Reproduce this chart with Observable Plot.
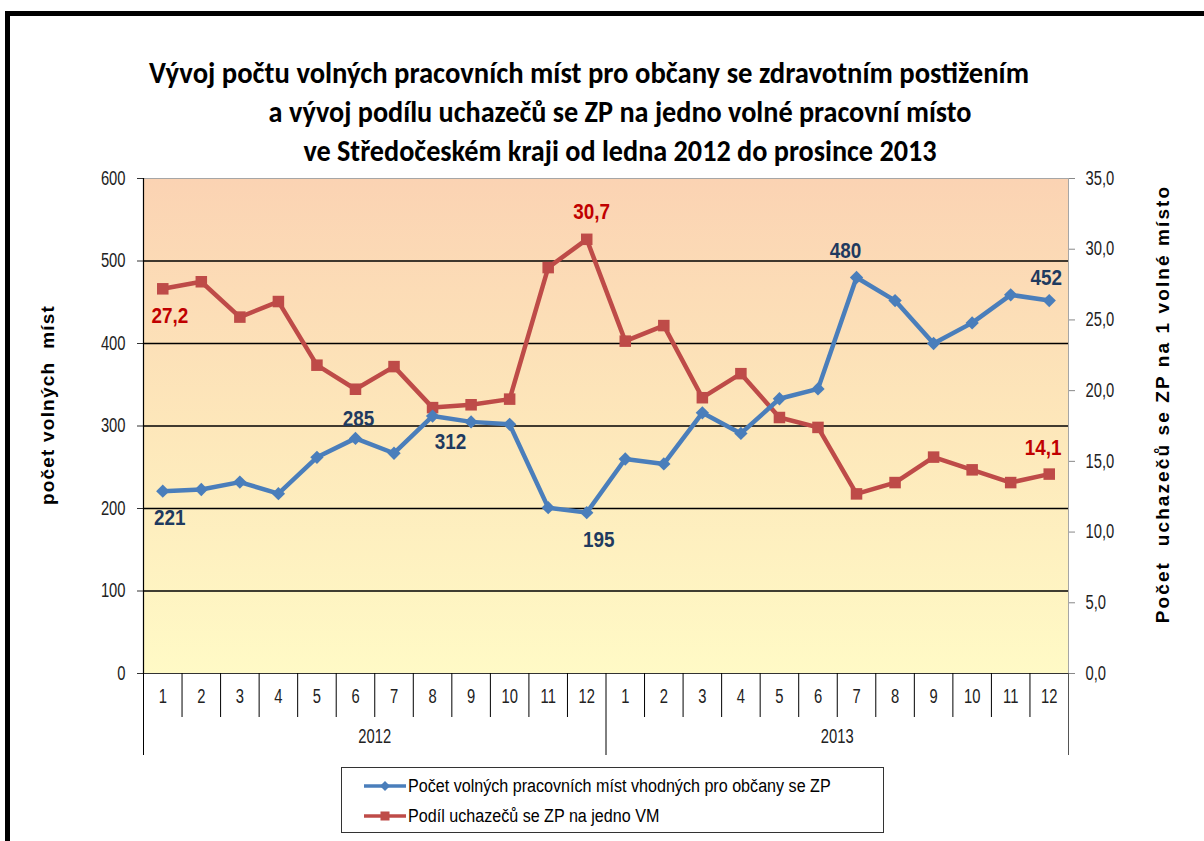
<!DOCTYPE html>
<html>
<head>
<meta charset="utf-8">
<script src="https://cdn.jsdelivr.net/npm/d3@7"></script>
<script src="https://cdn.jsdelivr.net/npm/@observablehq/plot@0.6"></script>
<style>
  body { margin: 0; background: #fff; }
  #wrap { position: relative; width: 1204px; height: 841px; overflow: hidden; background: #fff;
          font-family: "Liberation Sans", Arial, sans-serif; }
  #frame { position: absolute; left: 5px; top: 11px; right: -10px; bottom: -10px;
           border-top: 5px solid #000; border-left: 5px solid #000; pointer-events: none; }
  #chart { position: absolute; left: 0; top: 0; }
  .title { position: absolute; transform: translate(-50%, -50%) scaleX(0.94); white-space: nowrap;
           font-family: Carlito, "Liberation Sans", sans-serif;
           font-weight: bold; font-size: 30px; color: #000; }
  .ytitle { position: absolute; transform: translate(-50%, -50%) rotate(-90deg); white-space: pre;
            font-family: "Liberation Sans", Arial, sans-serif; font-weight: bold; font-size: 19px;
            color: #000; letter-spacing: 1.2px; }
  #legend { position: absolute; left: 341px; top: 767px; width: 541px; height: 64px;
            border: 1px solid #333; background: #fff; box-sizing: content-box; }
  .lg { position: absolute; left: 22px; height: 22px; display: flex; align-items: center;
        font-family: "Liberation Sans", Arial, sans-serif; font-size: 18px; color: #000; white-space: nowrap; }
  .lg span { display: inline-block; transform: scaleX(0.895); transform-origin: left center; }
  .lg svg { margin-right: 2px; }
</style>
</head>
<body>
<div id="wrap">
  <div id="chart"></div>
  <div class="title" style="left:589px; top:72px; transform: translate(-50%, -50%) scaleX(0.955);">Vývoj počtu volných pracovních míst pro občany se zdravotním postižením</div>
  <div class="title" style="left:620px; top:111px;">a vývoj podílu uchazečů se ZP na jedno volné pracovní místo</div>
  <div class="title" style="left:620px; top:150px;">ve Středočeském kraji od ledna 2012 do prosince 2013</div>
  <div class="ytitle" style="left:48px; top:405px;">počet volných  míst</div>
  <div class="ytitle" style="left:1163px; top:404px; letter-spacing:2.1px;">Počet  uchazečů se ZP na 1 volné místo</div>
  <div id="legend"></div>
  <div id="frame"></div>
</div>
<script>
// ---- data ----
const years = ["2012", "2013"];
const monthLabels = ["1","2","3","4","5","6","7","8","9","10","11","12"];
const vacancies = [221, 223, 232, 218, 262, 285, 267, 312, 305, 302, 201, 195,
                   260, 254, 316, 291, 333, 345, 480, 452, 400, 425, 459, 452];
const ratio = [27.2, 27.7, 25.2, 26.3, 21.8, 20.1, 21.7, 18.8, 19.0, 19.4, 28.7, 30.7,
               23.5, 24.6, 19.5, 21.2, 18.1, 17.4, 12.7, 13.5, 15.3, 14.4, 13.5, 14.1];
const leftTicks = [0, 100, 200, 300, 400, 500, 600];
const rightTicks = [0, 5, 10, 15, 20, 25, 30, 35];
const seriesNames = ["Počet volných pracovních míst vhodných pro občany se ZP",
                     "Podíl uchazečů se ZP na jedno VM"];

// ---- derived ----
const leftMax = 600, rightMax = 35, k = leftMax / rightMax;
const rows = vacancies.map((v, j) => ({
  i: j + 1, year: years[Math.floor(j / 12)], month: monthLabels[j % 12], v, r: ratio[j], rs: ratio[j] * k
}));
const yearInfo = years.map((y, j) => ({ year: y, center: j * 12 + 6.5 }));
const monthSeps = d3.range(1.5, 24.5, 1).filter(s => s !== 12.5);
const yearSeps = [0.5, 12.5];

const blue = "#4A7EBB", red = "#BE4B48", navy = "#1F3A5F", darkRed = "#C00000";
const fmt = x => x.toFixed(1).replace(".", ",");

const W = 1204, H = 841, mL = 143, mR = 136, mT = 178, mB = 168;
const plotH = H - mT - mB;

const lab = (d, opts) => Plot.text([d], {
  x: "i", fontWeight: "bold", fontSize: 21, fontFamily: "Liberation Sans, Arial, sans-serif", className: "dlab", ...opts
});

const chart = Plot.plot({
  width: W, height: H,
  marginLeft: mL, marginRight: mR, marginTop: mT, marginBottom: mB,
  x: { type: "linear", domain: [0.5, 24.5], axis: null },
  y: { domain: [0, leftMax], axis: null },
  style: { background: "transparent", fontFamily: "Liberation Sans, Arial, sans-serif", fontSize: "17px", color: "#222", overflow: "visible" },
  marks: [
    Plot.frame({ fill: "url(#bgGrad)", stroke: "#a6a6a6" }),
    Plot.ruleY(leftTicks.filter(t => t > 0 && t < leftMax), { stroke: "#000", strokeWidth: 1.3 }),
    Plot.axisY({ anchor: "left", ticks: leftTicks, tickSize: 6, tickPadding: 12, label: null,
                 fontSize: 18, stroke: "#333", fill: "#222", className: "nar" }),
    Plot.axisY({ anchor: "right", ticks: rightTicks.map(t => t * k), tickFormat: d => fmt(d / k),
                 tickSize: 6, tickPadding: 11, label: null, fontSize: 18, stroke: "#888", fill: "#222", className: "nar" }),
    // axis lines
    Plot.ruleY([0], { stroke: "#333", strokeWidth: 1.2 }),
    Plot.ruleX([0.5], { stroke: "#000", strokeWidth: 1.2 }),
    // category separators below the axis
    Plot.ruleX(monthSeps, { stroke: "#000", insetTop: plotH, insetBottom: -44 }),
    Plot.ruleX(yearSeps, { stroke: "#000", insetTop: plotH, insetBottom: -82 }),
    Plot.ruleX([24.5], { stroke: "#555", insetTop: plotH, insetBottom: -82 }),
    Plot.text(rows, { x: "i", text: "month", frameAnchor: "bottom", dy: 29, fontSize: 18, fill: "#222", className: "nar" }),
    Plot.text(yearInfo, { x: "center", text: "year", frameAnchor: "bottom", dy: 69, fontSize: 18, fill: "#222", className: "nar" }),
    // series
    Plot.line(rows, { x: "i", y: "rs", stroke: red, strokeWidth: 4.5 }),
    Plot.dot(rows, { x: "i", y: "rs", symbol: "square", r: 6.5, fill: red, stroke: "none" }),
    Plot.line(rows, { x: "i", y: "v", stroke: blue, strokeWidth: 4.5 }),
    Plot.dot(rows, { x: "i", y: "v", symbol: "diamond2", r: 6, fill: blue, stroke: "none" }),
    // data labels
    lab(rows[0],  { y: "v", text: d => String(d.v), dx: 7,  dy: 27, fill: navy }),
    lab(rows[5],  { y: "v", text: d => String(d.v), dx: 3,  dy: -19, fill: navy }),
    lab(rows[7],  { y: "v", text: d => String(d.v), dx: 18, dy: 26, fill: navy }),
    lab(rows[11], { y: "v", text: d => String(d.v), dx: 12, dy: 28, fill: navy }),
    lab(rows[18], { y: "v", text: d => String(d.v), dx: -11, dy: -26, fill: navy }),
    lab(rows[23], { y: "v", text: d => String(d.v), dx: -3, dy: -22, fill: navy }),
    lab(rows[0],  { y: "rs", text: d => fmt(d.r), dx: 7,  dy: 27, fill: darkRed }),
    lab(rows[11], { y: "rs", text: d => fmt(d.r), dx: 5,  dy: -27, fill: darkRed }),
    lab(rows[23], { y: "rs", text: d => fmt(d.r), dx: -6, dy: -26, fill: darkRed })
  ]
});

d3.select(chart).insert("defs", ":first-child").html(
  `<linearGradient id="bgGrad" x1="0" y1="0" x2="0" y2="1">
     <stop offset="0" stop-color="#FBD3B3"/>
     <stop offset="0.5" stop-color="#FDE7BA"/>
     <stop offset="1" stop-color="#FFFAC6"/>
   </linearGradient>`);

// condense text glyphs (narrow, tall look of the original)
function condense(sel, sx, sy) {
  d3.select(chart).selectAll(sel).each(function () {
    const t = this.getAttribute("transform");
    if (t) this.setAttribute("transform", t + ` scale(${sx},${sy})`);
  });
}
condense(".nar text", 0.82, 1.08);
condense(".dlab text", 0.9, 1.02);

document.getElementById("chart").appendChild(chart);

// legend
const legend = d3.select("#legend");
[[blue, "diamond"], [red, "square"]].forEach(([c, sym], j) => {
  const row = legend.append("div").attr("class", "lg").style("top", (j === 0 ? 7 : 37) + "px");
  const s = row.append("svg").attr("width", 42).attr("height", 14);
  s.append("line").attr("x1", 0).attr("x2", 42).attr("y1", 7).attr("y2", 7).attr("stroke", c).attr("stroke-width", 3.5);
  if (sym === "diamond") s.append("path").attr("d", "M21,2L26,7L21,12L16,7Z").attr("fill", c);
  else s.append("rect").attr("x", 16.5).attr("y", 2.5).attr("width", 9).attr("height", 9).attr("fill", c);
  row.append("span").text(seriesNames[j]);
});
</script>
</body>
</html>
